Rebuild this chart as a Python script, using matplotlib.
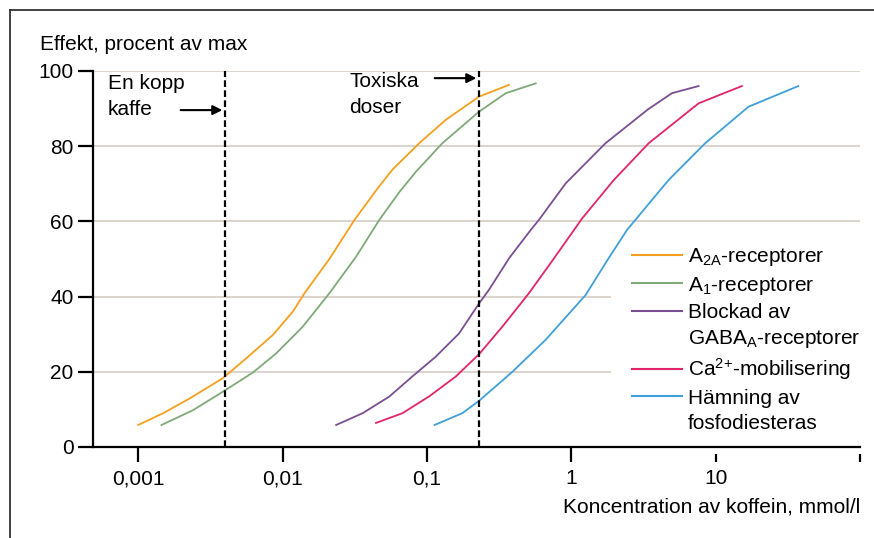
import matplotlib
matplotlib.use("Agg")
import matplotlib.pyplot as plt
from matplotlib.lines import Line2D

plt.rcParams['font.family'] = ['Liberation Sans', 'DejaVu Sans']
plt.rcParams['mathtext.default'] = 'regular'

# Data: caffeine concentration (mmol/l) vs effect (% of max)
a2a_conc = [0.001, 0.00149, 0.00227, 0.00386, 0.00561, 0.00857, 0.01178, 0.0142, 0.0211,
            0.0315, 0.0456, 0.0578, 0.0885, 0.135, 0.23, 0.37]
a2a_eff = [5.85, 9.0, 12.9, 18.3, 23.6, 29.8, 36, 40.9, 50, 60.4, 68.8, 73.8, 80.8, 87, 93.2, 96.3]

a1_conc = [0.00145, 0.0024, 0.00386, 0.00623, 0.00904, 0.0138, 0.0211, 0.0323, 0.0468,
           0.0644, 0.0839, 0.128, 0.23, 0.352, 0.567]
a1_eff = [5.85, 9.8, 14.7, 19.8, 24.9, 32, 40.9, 50.6, 60.4, 67.8, 73.2, 80.8, 89.2, 94.1, 96.7]

gaba_conc = [0.0235, 0.0359, 0.0548, 0.0795, 0.115, 0.167, 0.23, 0.269, 0.371, 0.523,
             0.597, 0.914, 1.727, 3.4, 4.98, 7.62]
gaba_eff = [5.85, 9.0, 13.4, 18.8, 24, 30.2, 38.2, 41.8, 50.2, 57.7, 60.4, 70.1, 80.8, 89.8, 94.1, 96]

ca_conc = [0.0444, 0.0678, 0.104, 0.158, 0.23, 0.333, 0.509, 0.76, 1.19, 1.97, 3.44,
           7.62, 15.2]
ca_eff = [6.4, 9.0, 13.5, 18.7, 24.7, 32, 40.9, 50.2, 60.8, 71, 80.8, 91.4, 96]

pde_conc = [0.113, 0.176, 0.23, 0.391, 0.664, 1.256, 1.78, 2.43, 2.78, 4.72, 8.47, 16.9, 37.4]
pde_eff = [5.85, 9.0, 12.3, 20, 28.5, 40.4, 49.7, 57.7, 60.4, 71, 80.8, 90.5, 96]

coffee_dose = 0.004
toxic_dose = 0.23

xticks = [0.001, 0.01, 0.1, 1, 10, 100]
xticklabels = ['0,001', '0,01', '0,1', '1', '10', '']
yticks = [0, 20, 40, 60, 80, 100]

fig = plt.figure(figsize=(8.74, 5.38), dpi=100)
ax = fig.add_axes([93/874, 1 - 447/538, 767/874, 376/538])

fs = 15

# gridlines
for y in yticks[1:]:
    ax.axhline(y, color='#d9d1c9', lw=1.3, zorder=0)

ax.plot(a2a_conc, a2a_eff, color='#f2a01e', lw=1.3, zorder=2)
ax.plot(a1_conc, a1_eff, color='#7fa979', lw=1.3, zorder=2)
ax.plot(gaba_conc, gaba_eff, color='#7a4f91', lw=1.3, zorder=2)
ax.plot(ca_conc, ca_eff, color='#e2246a', lw=1.3, zorder=2)
ax.plot(pde_conc, pde_eff, color='#3f9fd7', lw=1.3, zorder=2)

ax.axvline(coffee_dose, color='black', lw=1.6, ls=(0, (3, 1.5)), zorder=3)
ax.axvline(toxic_dose, color='black', lw=1.6, ls=(0, (3, 1.5)), zorder=3)

ax.set_xscale('log')
ax.set_xlim(10**-3.313, 100)
ax.set_ylim(0, 100)
ax.set_xticks(xticks)
ax.set_xticklabels(xticklabels)
ax.minorticks_off()
ax.set_yticks(yticks)

for s in ['top', 'right']:
    ax.spines[s].set_visible(False)
for s in ['left', 'bottom']:
    ax.spines[s].set_linewidth(1.6)
ax.tick_params(axis='both', length=11, width=1.6, labelsize=fs)
ax.tick_params(axis='y', pad=3)
ax.tick_params(axis='x', pad=5)

# annotations
ax.text(0.0196, 0.932, 'En kopp\nkaffe', transform=ax.transAxes, fontsize=fs,
        va='center', ha='left', linespacing=1.45)
ax.annotate('', xy=(coffee_dose, 89.6), xytext=(-34, 0), textcoords='offset points',
            arrowprops=dict(arrowstyle='-|>', color='black', lw=1.5, mutation_scale=14))
ax.text(0.334, 0.9375, 'Toxiska\ndoser', transform=ax.transAxes, fontsize=fs,
        va='center', ha='left', linespacing=1.45)
ax.annotate('', xy=(toxic_dose, 98.1), xytext=(-34, 0), textcoords='offset points',
            arrowprops=dict(arrowstyle='-|>', color='black', lw=1.5, mutation_scale=14),
            annotation_clip=False)

# legend
handles = [
    Line2D([], [], color='#f2a01e', lw=1.5),
    Line2D([], [], color='#7fa979', lw=1.5),
    Line2D([], [], color='#7a4f91', lw=1.5),
    Line2D([], [], color='none'),
    Line2D([], [], color='#e2246a', lw=1.5),
    Line2D([], [], color='#3f9fd7', lw=1.5),
    Line2D([], [], color='none'),
]
labels = ['A$_{2A}$-receptorer', 'A$_1$-receptorer', 'Blockad av',
          'GABA$_A$-receptorer', 'Ca$^{2{+}}$-mobilisering', 'Hämning av',
          'fosfodiesteras']
leg = ax.legend(handles, labels, loc='upper left', bbox_to_anchor=(0.675, 0.589),
                fontsize=fs, frameon=True, fancybox=False, framealpha=1,
                facecolor='white', edgecolor='none', borderpad=1.0,
                borderaxespad=0, handlelength=2.4, handletextpad=0.29,
                labelspacing=0.3)
leg.set_zorder(1.5)

# axis titles
fig.text(40/874, 1 - 44/538, 'Effekt, procent av max', fontsize=fs, va='center', ha='left')
fig.text(860/874, 1 - 507/538, 'Koncentration av koffein, mmol/l', fontsize=fs,
         va='center', ha='right')

# outer frame (top and left edges)
fig.add_artist(Line2D([10/874, 1], [1 - 10/538, 1 - 10/538], color='#222222', lw=1.2))
fig.add_artist(Line2D([10/874, 10/874], [0, 1 - 10/538], color='#222222', lw=1.2))

fig.savefig('out.png', dpi=100)
